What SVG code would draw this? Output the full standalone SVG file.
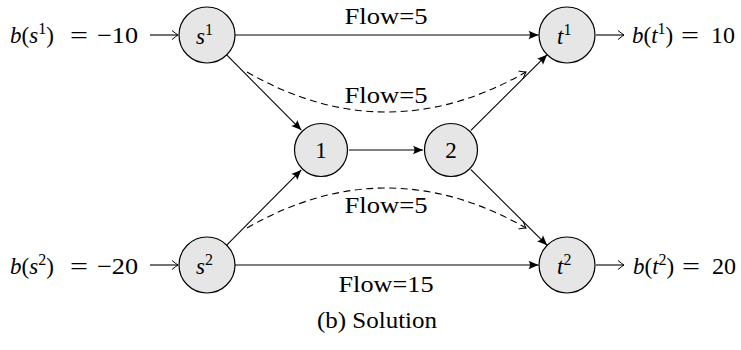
<svg xmlns="http://www.w3.org/2000/svg" width="741" height="350" viewBox="0 0 741 350">
<style>
text{font-size:23px;fill:#000}
.it{font-style:italic}
.node circle{fill:#e6e6e6;stroke:#000;stroke-width:1.2}
.e{stroke:#000;stroke-width:1.1;fill:none}
.d{stroke-dasharray:7 4.5}
.sup{font-size:16px}
</style>
<defs>
<marker id="st" markerUnits="userSpaceOnUse" markerWidth="14" markerHeight="12" viewBox="-11 -6 12 12" refX="0" refY="0" orient="auto">
<path d="M0,0 L-10,-4.2 Q-7,0 -10,4.2 Z" fill="#000"/>
</marker>
<marker id="to" markerUnits="userSpaceOnUse" markerWidth="12" markerHeight="12" viewBox="-8 -6 9 12" refX="0" refY="0" orient="auto">
<path d="M-6,-4.5 Q-1.5,-0.8 0,0 Q-1.5,0.8 -6,4.5" fill="none" stroke="#000" stroke-width="1"/>
</marker>
</defs>
<g font-family="'Liberation Serif', 'DejaVu Serif', serif">
<g id="connectors">
<line class="e" x1="150" y1="35" x2="178" y2="35" marker-end="url(#to)"/>
<line class="e" x1="150" y1="265" x2="178" y2="265" marker-end="url(#to)"/>
<line class="e" x1="596" y1="35" x2="624" y2="35" marker-end="url(#to)"/>
<line class="e" x1="596" y1="265" x2="624" y2="265" marker-end="url(#to)"/>
<line class="e" x1="235" y1="35" x2="538.5" y2="35" marker-end="url(#st)"/>
<line class="e" x1="235" y1="265" x2="538.5" y2="265" marker-end="url(#st)"/>
<line class="e" x1="226.7" y1="54.9" x2="301.3" y2="130.1" marker-end="url(#st)"/>
<line class="e" x1="226.7" y1="245.1" x2="301.3" y2="169.9" marker-end="url(#st)"/>
<line class="e" x1="349" y1="150" x2="423" y2="150" marker-end="url(#st)"/>
<line class="e" x1="470.9" y1="130.3" x2="547.1" y2="54.7" marker-end="url(#st)"/>
<line class="e" x1="470.9" y1="169.7" x2="547.1" y2="245.3" marker-end="url(#st)"/>
<path class="e d" d="M247,72 Q386,152 526,72" marker-end="url(#to)"/>
<path class="e d" d="M247,228 Q386,148 526,228" marker-end="url(#to)"/>
<text x="386" y="24" text-anchor="middle" textLength="83" lengthAdjust="spacingAndGlyphs">Flow=5</text>
<text x="386" y="103" text-anchor="middle" textLength="83" lengthAdjust="spacingAndGlyphs">Flow=5</text>
<text x="386" y="213" text-anchor="middle" textLength="83" lengthAdjust="spacingAndGlyphs">Flow=5</text>
<text x="386" y="292" text-anchor="middle" textLength="95" lengthAdjust="spacingAndGlyphs">Flow=15</text>
</g>
<g id="s1" class="node"><circle cx="207" cy="35" r="28"/><text x="196" y="44"><tspan class="it">s</tspan><tspan class="sup" dy="-9">1</tspan></text></g>
<g id="s2" class="node"><circle cx="207" cy="265" r="28"/><text x="196" y="274"><tspan class="it">s</tspan><tspan class="sup" dy="-9">2</tspan></text></g>
<g id="t1" class="node"><circle cx="567" cy="35" r="28"/><text x="557" y="44"><tspan class="it">t</tspan><tspan class="sup" dy="-9">1</tspan></text></g>
<g id="t2" class="node"><circle cx="567" cy="265" r="28"/><text x="557" y="274"><tspan class="it">t</tspan><tspan class="sup" dy="-9">2</tspan></text></g>
<g id="n1" class="node"><circle cx="321" cy="150" r="26.5"/><text x="321" y="158" text-anchor="middle">1</text></g>
<g id="n2" class="node"><circle cx="451" cy="150" r="26.5"/><text x="451" y="158" text-anchor="middle">2</text></g>
<g id="labels">
<text x="10" y="43"><tspan class="it">b</tspan>(<tspan class="it">s</tspan><tspan class="sup" dy="-9">1</tspan><tspan dy="9">)</tspan></text>
<text x="70" y="43" textLength="18" lengthAdjust="spacingAndGlyphs">=</text><text x="97" y="43" textLength="41" lengthAdjust="spacingAndGlyphs">−10</text>
<text x="10" y="274"><tspan class="it">b</tspan>(<tspan class="it">s</tspan><tspan class="sup" dy="-9">2</tspan><tspan dy="9">)</tspan></text>
<text x="70" y="274" textLength="18" lengthAdjust="spacingAndGlyphs">=</text><text x="97" y="274" textLength="41" lengthAdjust="spacingAndGlyphs">−20</text>
<text x="632" y="43"><tspan class="it">b</tspan>(<tspan class="it">t</tspan><tspan class="sup" dy="-9">1</tspan><tspan dy="9">)</tspan></text>
<text x="681" y="43" textLength="18" lengthAdjust="spacingAndGlyphs">=</text><text x="711" y="43" textLength="24" lengthAdjust="spacingAndGlyphs">10</text>
<text x="633" y="274"><tspan class="it">b</tspan>(<tspan class="it">t</tspan><tspan class="sup" dy="-9">2</tspan><tspan dy="9">)</tspan></text>
<text x="682" y="274" textLength="18" lengthAdjust="spacingAndGlyphs">=</text><text x="712" y="274" textLength="24" lengthAdjust="spacingAndGlyphs">20</text>
<text x="377" y="328" text-anchor="middle" textLength="120" lengthAdjust="spacingAndGlyphs">(b) Solution</text>
</g>
</g>
</svg>
